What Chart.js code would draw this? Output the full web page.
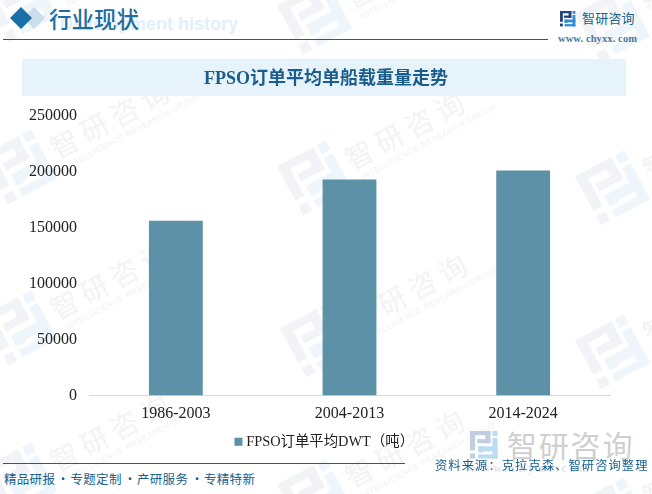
<!DOCTYPE html>
<html lang="zh"><head><meta charset="utf-8">
<style>
html,body{margin:0;padding:0;background:#fff;width:652px;height:494px;overflow:hidden}
#bg,#fg{position:absolute;left:0;top:0}
#wrap{position:absolute;left:0;top:0;width:652px;height:494px}
text{font-family:"Noto Sans CJK SC",sans-serif}
</style>
<script src="https://cdn.jsdelivr.net/npm/chart.js@4"></script>
</head><body>
<svg id="bg" width="652" height="494" xmlns="http://www.w3.org/2000/svg"></svg>
<div id="wrap"><canvas id="c" width="652" height="494"></canvas></div>
<svg id="fg" width="652" height="494" xmlns="http://www.w3.org/2000/svg"></svg>
<script>
const categories = ["1986-2003", "2004-2013", "2014-2024"];
const seriesName = "FPSO订单平均DWT（吨）";
const seriesValues = [156000, 193000, 201000];
const yTicks = [0, 50000, 100000, 150000, 200000, 250000];
const chartTitle = "FPSO订单平均单船载重量走势";
const watermarkSpots = [[20,5],[315,17],[613,25],[20,167],[315,178],[613,188],[20,328],[318,340],[613,352],[20,480],[315,496],[613,515]];
const footerGroups = [["精品研报",4],["专题定制",70.5],["产研服务",137],["专精特新",204]];
const footerDots = [63,130,197];

const SERIF = '"Liberation Serif","Noto Sans CJK SC",serif';

function logo(x,y,s,a,b,op){
  const L=[[0,0,20,4],[15,0,5,12],[7,8,13,4],[0,0,5,19],[0,22,5,5]];
  const R=[[22,0,5,5],[22,7,5,20],[8,15,19,5],[8,15,5,6],[8,23,19,4]];
  let o=`<g transform="translate(${x},${y}) scale(${s})" opacity="${op}">`;
  L.forEach(r=>o+=`<rect x="${r[0]}" y="${r[1]}" width="${r[2]}" height="${r[3]}" fill="${a}"/>`);
  R.forEach(r=>o+=`<rect x="${r[0]}" y="${r[1]}" width="${r[2]}" height="${r[3]}" fill="${b}"/>`);
  return o+'</g>';
}
let bg='';
watermarkSpots.forEach(p=>{
  bg+=`<g transform="translate(${p[0]},${p[1]}) rotate(-28)">`
    +logo(-28,-28,2.05,'#f1f3f7','#eef6fb',1)
    +`<text x="36" y="11" font-size="28" letter-spacing="6" fill="#f3f3f5">智研咨询</text>`
    +`<text x="41" y="24" font-size="8" letter-spacing="0.6" fill="#f1f1f2" style="font-family:'Liberation Sans'">INTELLIGENCE RESEARCH GROUP</text>`
    +`</g>`;
});
bg+=`<rect x="22" y="59" width="604" height="37" fill="#e6f3fb"/>`;
bg+=`<text x="60" y="30" font-size="18" font-weight="700" fill="#e1f0fb" style="font-family:'Liberation Sans'">Development history</text>`;
bg+=`<polygon points="34,7 45,18 34,29 23,18" fill="#c9dfee"/>`;
bg+=`<polygon points="21,7 32,18 21,29 10,18" fill="#1b6fa8"/>`;
bg+=`<text x="49" y="28" font-size="22.5" font-weight="500" fill="#1f6d9f">行业现状</text>`;
bg+=`<rect x="3" y="39" width="545" height="1" fill="#1a5f8a"/>`;
bg+=logo(560,11,0.57,'#27447f','#2f8fd0',1);
bg+=`<text x="582" y="23" font-size="13" letter-spacing="0.2" fill="#1a5f8a">智研咨询</text>`;
bg+=`<text x="558" y="42" font-size="10.5" font-weight="700" letter-spacing="0.1" fill="#4a7a9c" style="font-family:'Liberation Serif'">www. chyxx. com</text>`;
bg+=`<rect x="3" y="463" width="402" height="1" fill="#1a5f8a"/>`;
footerGroups.forEach(g=>{bg+=`<text x="${g[1]}" y="484" font-size="12.5" letter-spacing="0.3" fill="#1a5f8a">${g[0]}</text>`;});
footerDots.forEach(x=>{bg+=`<text x="${x}" y="484" font-size="12.5" text-anchor="middle" fill="#1a5f8a">·</text>`;});
bg+=logo(470,431,1.02,'#c3cde0','#bcdcf2',1);
bg+=`<text x="507" y="457" font-size="30" letter-spacing="1.8" fill="#cfcfcf">智研咨询</text>`;
bg+=`<text x="470" y="472" font-size="12" font-weight="700" letter-spacing="3" fill="#e4e4e4" style="font-family:'Liberation Serif'">www.chyxx.com</text>`;
document.getElementById('bg').innerHTML=bg;
document.getElementById('fg').innerHTML=`<text x="435" y="470" font-size="12.3" letter-spacing="1.05" fill="#16608f">资料来源：克拉克森、智研咨询整理</text>`;

Chart.defaults.animation=false;
new Chart(document.getElementById('c'),{
  type:'bar',
  data:{labels:categories,datasets:[{label:seriesName,data:seriesValues,backgroundColor:'#5d91a8',barPercentage:0.31,categoryPercentage:1}]},
  options:{
    responsive:false,animation:false,
    layout:{padding:{left:0,right:0,top:0,bottom:35}},
    plugins:{
      tooltip:{enabled:false},
      title:{display:true,text:chartTitle,color:'#1a5d8a',font:{family:SERIF,size:18,weight:'bold'},padding:{top:69,bottom:25}},
      legend:{position:'bottom',labels:{color:'#222',font:{family:SERIF,size:14.4},usePointStyle:true,pointStyle:'rect',boxWidth:1,boxHeight:8,padding:10}}
    },
    scales:{
      x:{grid:{display:false},border:{color:'#d9d9d9',width:1},ticks:{color:'#222',font:{family:SERIF,size:16},padding:1,maxRotation:0}},
      y:{min:0,max:250000,afterBuildTicks(a){a.ticks=yTicks.map(v=>({value:v}));},afterFit(a){a.width=89;},grid:{display:false,drawTicks:false},border:{display:false},ticks:{color:'#222',font:{family:SERIF,size:16},padding:12,callback:v=>String(v)}},
      y2:{position:'right',display:true,min:0,max:1,afterFit(a){a.width=42;},grid:{display:false,drawTicks:false},border:{display:false},ticks:{display:false}}
    }
  }
});
</script>
</body></html>
